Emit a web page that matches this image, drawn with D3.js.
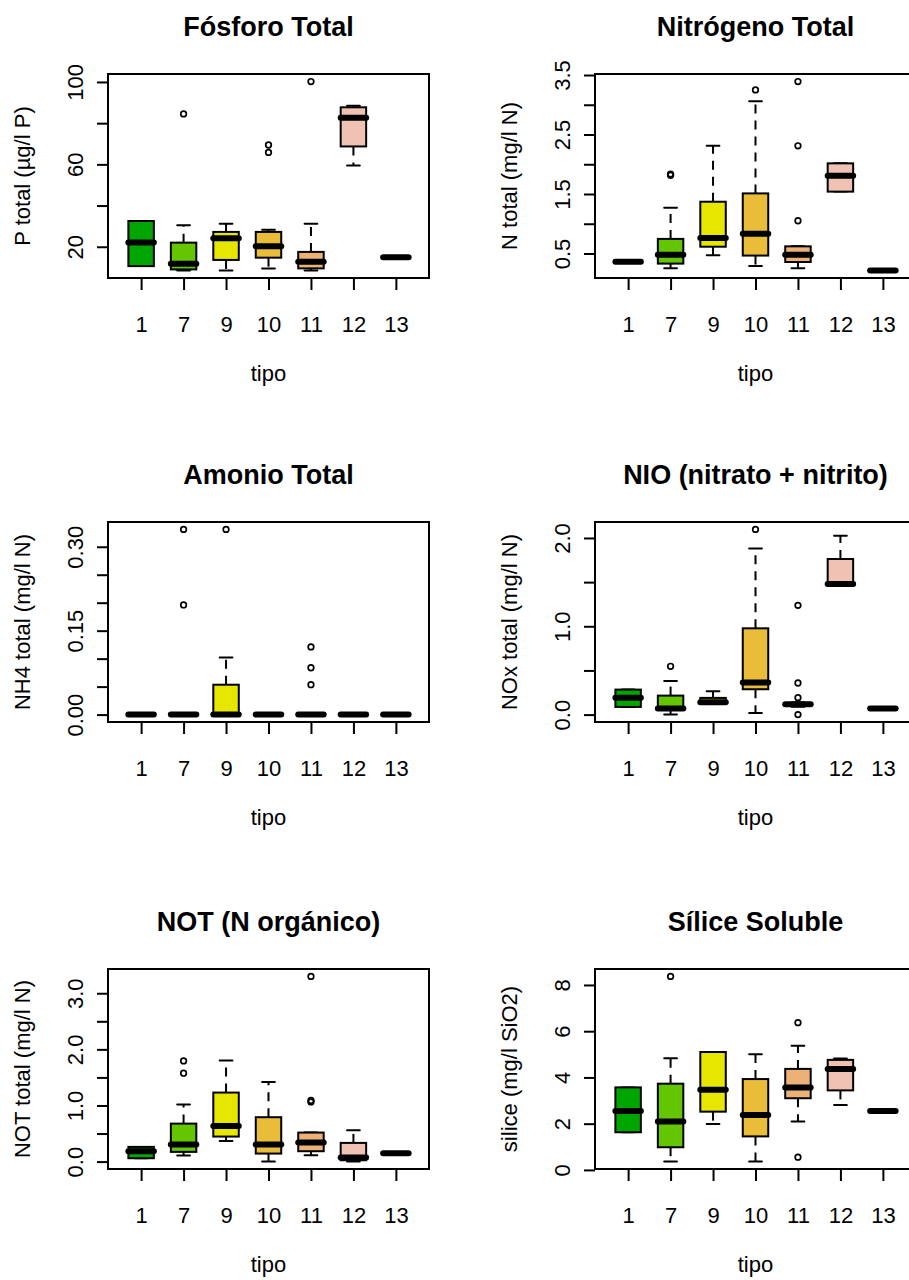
<!DOCTYPE html>
<html>
<head>
<meta charset="utf-8">
<script src="https://cdn.jsdelivr.net/npm/d3@7"></script>
<style>
  body { margin: 0; background: #fff; }
  svg { display: block; font-family: "Liberation Sans", Arial, sans-serif; }
</style>
</head>
<body>
<div id="chart"></div>
<script>
const tipos = ["1", "7", "9", "10", "11", "12", "13"];
const colores = ["#00A600", "#63C600", "#E6E600", "#E9BD3A", "#ECB176", "#EFC2B3", "#F2F2F2"];

// each row: [whisker low, Q1, median, Q3, whisker high] for one tipo
const fosforoStats = [
  [10.6, 10.6, 22.1, 32.5, 32.5],
  [8.5, 9.0, 11.8, 22.0, 30.5],
  [8.5, 13.6, 24.1, 27.2, 31.2],
  [9.5, 14.7, 20.2, 27.2, 28.2],
  [8.5, 9.5, 12.7, 17.5, 31.2],
  [59.5, 68.7, 82.6, 87.7, 88.5],
  [14.9, 14.9, 14.9, 14.9, 14.9],
];
const fosforoOut = [[], [84.5], [], [65.8, 69.4], [100.2], [], []];
const fosforoTicks = [20, 40, 60, 80, 100];
const fosforoLabels = ["20", "60", "100"];

const nitrogenoStats = [
  [0.363, 0.363, 0.363, 0.363, 0.363],
  [0.25, 0.33, 0.477, 0.745, 1.27],
  [0.47, 0.614, 0.762, 1.37, 2.31],
  [0.29, 0.465, 0.83, 1.51, 3.06],
  [0.25, 0.357, 0.477, 0.62, 0.62],
  [1.54, 1.54, 1.805, 2.015, 2.015],
  [0.215, 0.215, 0.215, 0.215, 0.215],
];
const nitrogenoOut = [[], [1.815, 1.835], [], [3.25], [1.05, 2.31, 3.39], [], []];
const nitrogenoTicks = [0.5, 1, 1.5, 2, 2.5, 3, 3.5];
const nitrogenoLabels = ["0.5", "1.5", "2.5", "3.5"];

const amonioStats = [
  [0, 0, 0, 0, 0],
  [0, 0, 0, 0, 0],
  [0, 0, 0, 0.0534, 0.102],
  [0, 0, 0, 0, 0],
  [0, 0, 0, 0, 0],
  [0, 0, 0, 0, 0],
  [0, 0, 0, 0, 0],
];
const amonioOut = [[], [0.196, 0.331], [0.331], [], [0.0534, 0.0837, 0.121], [], []];
const amonioTicks = [0, 0.05, 0.1, 0.15, 0.2, 0.25, 0.3];
const amonioLabels = ["0.00", "0.15", "0.30"];

const nioStats = [
  [0.087, 0.087, 0.192, 0.283, 0.283],
  [0.0, 0.068, 0.068, 0.215, 0.381],
  [0.136, 0.136, 0.14, 0.189, 0.264],
  [0.019, 0.287, 0.362, 0.977, 1.88],
  [0.09, 0.1, 0.117, 0.13, 0.14],
  [1.479, 1.479, 1.479, 1.762, 2.026],
  [0.068, 0.068, 0.068, 0.068, 0.068],
];
const nioOut = [[], [0.547], [], [2.097], [0.0, 0.192, 0.358, 1.237], [], []];
const nioTicks = [0, 0.5, 1, 1.5, 2];
const nioLabels = ["0.0", "1.0", "2.0"];

const notStats = [
  [0.06, 0.06, 0.185, 0.262, 0.262],
  [0.107, 0.173, 0.303, 0.677, 1.016],
  [0.369, 0.446, 0.636, 1.23, 1.8],
  [0.0, 0.143, 0.303, 0.791, 1.42],
  [0.114, 0.185, 0.339, 0.517, 0.517],
  [0.0, 0.024, 0.071, 0.333, 0.559],
  [0.15, 0.15, 0.15, 0.15, 0.15],
];
const notOut = [[], [1.575, 1.794], [], [], [1.063, 1.09, 3.3], [], []];
const notTicks = [0, 0.5, 1, 1.5, 2, 2.5, 3];
const notLabels = ["0.0", "1.0", "2.0", "3.0"];

const siliceStats = [
  [1.63, 1.63, 2.55, 3.57, 3.57],
  [0.36, 0.98, 2.09, 3.73, 4.83],
  [1.99, 2.52, 3.47, 5.1, 5.1],
  [0.36, 1.45, 2.38, 3.93, 5.0],
  [2.09, 3.1, 3.56, 4.37, 5.37],
  [2.81, 3.44, 4.37, 4.76, 4.82],
  [2.55, 2.55, 2.55, 2.55, 2.55],
];
const siliceOut = [[], [8.37], [], [], [0.55, 6.37], [], []];
const siliceTicks = [0, 2, 4, 6, 8];
const siliceLabels = ["0", "2", "4", "6", "8"];

const panels = [
  { title: "Fósforo Total", ylab: "P total (µg/l P)", stats: fosforoStats, out: fosforoOut, ticks: fosforoTicks, labels: fosforoLabels },
  { title: "Nitrógeno Total", ylab: "N total (mg/l N)", stats: nitrogenoStats, out: nitrogenoOut, ticks: nitrogenoTicks, labels: nitrogenoLabels },
  { title: "Amonio Total", ylab: "NH4 total (mg/l N)", stats: amonioStats, out: amonioOut, ticks: amonioTicks, labels: amonioLabels },
  { title: "NIO (nitrato + nitrito)", ylab: "NOx total (mg/l N)", stats: nioStats, out: nioOut, ticks: nioTicks, labels: nioLabels },
  { title: "NOT (N orgánico)", ylab: "NOT total (mg/l N)", stats: notStats, out: notOut, ticks: notTicks, labels: notLabels },
  { title: "Sílice Soluble", ylab: "silice (mg/l SiO2)", stats: siliceStats, out: siliceOut, ticks: siliceTicks, labels: siliceLabels },
];

const width = 909;
const height = 1280;
const colLeft = [108, 595];
const rowTop = [74, 522, 969];
const rowBottom = [278, 722, 1169];
const boxWidth = 321;
const lw = 2;
const axisFont = 22;
const titleFont = 27;

const svg = d3
  .select("#chart")
  .append("svg")
  .attr("width", width)
  .attr("height", height)
  .attr("viewBox", [0, 0, width, height]);

panels.forEach((p, i) => renderPanel(p, colLeft[i % 2], rowTop[Math.floor(i / 2)], rowBottom[Math.floor(i / 2)]));

function renderPanel(p, left, top, bottom) {
  const right = left + boxWidth;
  const g = svg.append("g");

  // R style ranges: 4% padding around data
  const x = d3.scaleLinear().domain([0.5 - 0.28, tipos.length + 0.5 + 0.28]).range([left, right]);
  const all = [...p.stats.flat(), ...p.out.flat()];
  const [lo, hi] = d3.extent(all);
  const pad = (hi - lo) * 0.04;
  const y = d3.scaleLinear().domain([lo - pad, hi + pad]).range([bottom, top]);
  const half = x(1.3) - x(1);

  // y axis, labels turned like R's las=0
  const gY = g
    .append("g")
    .attr("transform", `translate(${left},0)`)
    .call(
      d3
        .axisLeft(y)
        .tickValues(p.ticks)
        .tickSize(11)
        .tickSizeOuter(0)
        .tickFormat((d) => {
          const l = p.labels.find((s) => Math.abs(+s - d) < 1e-9);
          return l === undefined ? "" : l;
        })
    );
  gY.select(".domain").remove();
  gY.selectAll(".tick line").attr("stroke", "#000").attr("stroke-width", lw);
  gY.selectAll(".tick text")
    .attr("transform", "rotate(-90)")
    .attr("x", 0)
    .attr("y", -25)
    .attr("dy", null)
    .attr("text-anchor", "middle")
    .attr("fill", "#000")
    .style("font-size", `${axisFont}px`)
    .style("font-family", "'Liberation Sans', Arial, sans-serif");

  // x axis
  const gX = g
    .append("g")
    .attr("transform", `translate(0,${bottom})`)
    .call(
      d3
        .axisBottom(x)
        .tickValues(d3.range(1, tipos.length + 1))
        .tickSize(12)
        .tickSizeOuter(0)
        .tickFormat((d) => tipos[d - 1])
    );
  gX.select(".domain").remove();
  gX.selectAll(".tick line").attr("stroke", "#000").attr("stroke-width", lw);
  gX.selectAll(".tick text")
    .attr("y", 54)
    .attr("dy", null)
    .attr("fill", "#000")
    .style("font-size", `${axisFont}px`)
    .style("font-family", "'Liberation Sans', Arial, sans-serif");

  // boxes
  const gBox = g
    .selectAll(".box")
    .data(p.stats.map((s, j) => ({ s, j, out: p.out[j] })))
    .join("g")
    .attr("class", "box");

  gBox.each(function (d) {
    const b = d3.select(this);
    const cx = x(d.j + 1);
    const [wl, q1, med, q3, wh] = d.s;

    // dashed whiskers, solid staples
    b.selectAll(".whisker")
      .data([[q3, wh], [q1, wl]].filter((w) => w[0] !== w[1]))
      .join("line")
      .attr("x1", cx)
      .attr("x2", cx)
      .attr("y1", (w) => y(w[0]))
      .attr("y2", (w) => y(w[1]))
      .attr("stroke", "#000")
      .attr("stroke-width", lw)
      .attr("stroke-dasharray", "9,7");
    b.selectAll(".staple")
      .data([wl, wh])
      .join("line")
      .attr("x1", cx - half / 2)
      .attr("x2", cx + half / 2)
      .attr("y1", (v) => y(v))
      .attr("y2", (v) => y(v))
      .attr("stroke", "#000")
      .attr("stroke-width", lw)
      .attr("stroke-linecap", "round");

    b.append("rect")
      .attr("x", cx - half)
      .attr("y", y(q3))
      .attr("width", half * 2)
      .attr("height", y(q1) - y(q3))
      .attr("fill", colores[d.j])
      .attr("stroke", "#000")
      .attr("stroke-width", lw);

    b.append("line")
      .attr("x1", cx - half)
      .attr("x2", cx + half)
      .attr("y1", y(med))
      .attr("y2", y(med))
      .attr("stroke", "#000")
      .attr("stroke-width", 6)
      .attr("stroke-linecap", "round");

    b.selectAll("circle")
      .data(d.out)
      .join("circle")
      .attr("cx", cx)
      .attr("cy", (v) => y(v))
      .attr("r", 2.8)
      .attr("fill", "none")
      .attr("stroke", "#000")
      .attr("stroke-width", 1.7);
  });

  // frame
  g.append("rect")
    .attr("x", left)
    .attr("y", top)
    .attr("width", right - left)
    .attr("height", bottom - top)
    .attr("fill", "none")
    .attr("stroke", "#000")
    .attr("stroke-width", lw);

  // titles
  g.append("text")
    .attr("x", (left + right) / 2)
    .attr("y", top - 38)
    .attr("text-anchor", "middle")
    .attr("font-weight", "bold")
    .attr("font-size", titleFont)
    .text(p.title);

  g.append("text")
    .attr("x", (left + right) / 2)
    .attr("y", bottom + 103)
    .attr("text-anchor", "middle")
    .attr("font-size", axisFont)
    .text("tipo");

  g.append("text")
    .attr("transform", `translate(${left - 78},${(top + bottom) / 2}) rotate(-90)`)
    .attr("text-anchor", "middle")
    .attr("font-size", axisFont)
    .text(p.ylab);
}
</script>
</body>
</html>
